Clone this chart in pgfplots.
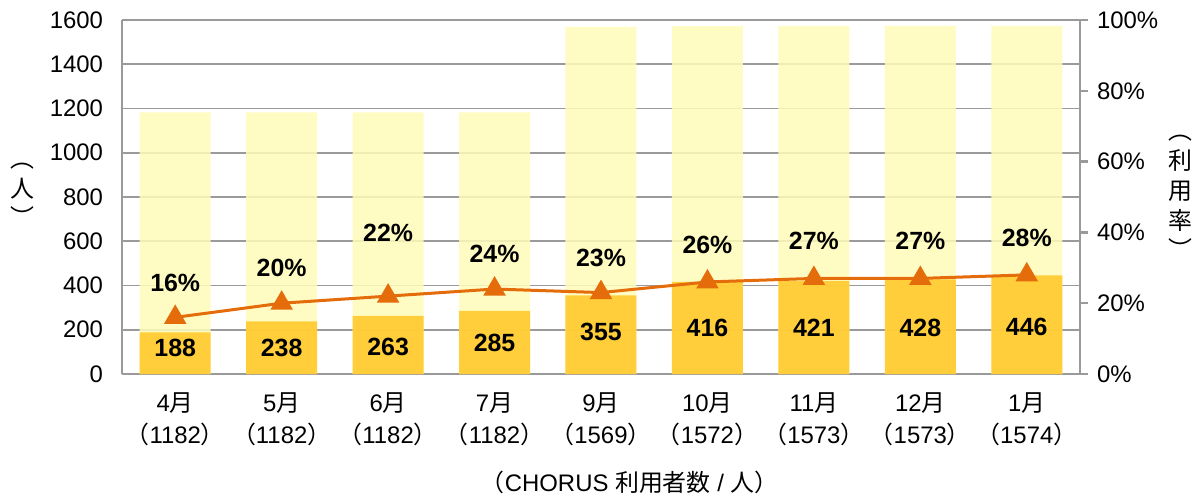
\documentclass[border=0pt]{standalone}
\usepackage{fontspec}
\setmainfont{Liberation Sans}
\newfontfamily\jp{Noto Sans CJK JP}
\usepackage{pgfplots}
\pgfplotsset{compat=1.18}

\definecolor{lightbar}{HTML}{FFFCB8}
\definecolor{darkbar}{HTML}{FFC828}
\definecolor{rate}{HTML}{E46C0A}
\definecolor{gridgray}{HTML}{9A9A9A}

\newcommand{\J}[1]{{\jp #1}}

\begin{document}
\begin{tikzpicture}
\useasboundingbox (-61bp,-63bp) rectangle (536.5bp,187bp);

\begin{axis}[
    scale only axis,
    width=479bp, height=177bp,
    xmin=-0.5, xmax=8.5,
    ymin=0, ymax=1600,
    ytick={0,200,...,1600},
    xtick={0,...,8},
    xticklabels={
        {4\J{月}\\\J{（}1182\J{）}},
        {5\J{月}\\\J{（}1182\J{）}},
        {6\J{月}\\\J{（}1182\J{）}},
        {7\J{月}\\\J{（}1182\J{）}},
        {9\J{月}\\\J{（}1569\J{）}},
        {10\J{月}\\\J{（}1572\J{）}},
        {11\J{月}\\\J{（}1573\J{）}},
        {12\J{月}\\\J{（}1573\J{）}},
        {1\J{月}\\\J{（}1574\J{）}}},
    xticklabel style={align=center, font=\fontsize{12}{16}\selectfont, yshift=-6bp},
    yticklabel style={font=\fontsize{12}{14}\selectfont, xshift=-6bp},
    /pgf/number format/assume math mode=true,
    /pgf/number format/1000 sep={},
    axis x line*=bottom,
    axis y line*=left,
    axis line style={gridgray, line width=1.2bp},
    major tick length=0pt,
    ymajorgrids,
    grid style={gridgray, line width=0.8bp},
    ybar, bar width=35.5bp, bar shift=0pt,
    clip=false,
]
\addplot[fill=lightbar, draw=none, fill opacity=0.85] coordinates {
    (0,1182) (1,1182) (2,1182) (3,1182) (4,1569)
    (5,1572) (6,1573) (7,1573) (8,1574)
};
\addplot[fill=darkbar, draw=none, fill opacity=0.88] coordinates {
    (0,188) (1,238) (2,263) (3,285) (4,355)
    (5,416) (6,421) (7,428) (8,446)
};
% value labels inside the dark bars
\addplot[draw=none, mark=none, nodes near coords, point meta=explicit symbolic,
    nodes near coords style={anchor=center, font=\fontsize{12.5}{14}\selectfont\bfseries}]
    coordinates {
    (0,117)[188] (1,117)[238] (2,122)[263] (3,140)[285] (4,190)[355]
    (5,208)[416] (6,208)[421] (7,208)[428] (8,212)[446]
};
\node[font=\fontsize{12}{14}\selectfont\jp, align=center, inner sep=0pt]
    at (axis description cs:-0.1044,0.506)
    {︵\\[1pt]人\\[1pt]︶};
\node[font=\fontsize{12}{14}\selectfont, anchor=center]
    at (axis description cs:0.53,0) [yshift=-54bp]
    {\J{（}CHORUS \J{利用者数} / \J{人）}};
\end{axis}

\begin{axis}[
    scale only axis,
    width=479bp, height=177bp,
    xmin=-0.5, xmax=8.5,
    ymin=0, ymax=100,
    ytick={0,20,...,100},
    yticklabel={\pgfmathprintnumber{\tick}\%},
    yticklabel style={font=\fontsize{12}{14}\selectfont, xshift=1bp},
    /pgf/number format/assume math mode=true,
    axis x line=none,
    axis y line*=right,
    axis line style={gridgray, line width=1.2bp},
    tick style={gridgray, line width=1.2bp},
    tick align=outside,
    major tick length=4bp,
    clip=false,
]
\addplot[rate, line width=1.5bp, mark=triangle*, mark size=5bp,
    mark options={fill=rate, draw=rate}] coordinates {
    (0,16) (1,20) (2,22) (3,24) (4,23) (5,26) (6,27) (7,27) (8,28)
};
\addplot[draw=none, mark=none, nodes near coords, point meta=explicit symbolic,
    nodes near coords style={anchor=center, font=\fontsize{12.5}{14}\selectfont\bfseries}]
    coordinates {
    (0,25.7)[16\%] (1,29.9)[20\%] (2,39.8)[22\%] (3,33.9)[24\%] (4,32.8)[23\%]
    (5,36.4)[26\%] (6,37.6)[27\%] (7,37.6)[27\%] (8,38.4)[28\%]
};
\node[font=\fontsize{12}{14}\selectfont\jp, align=center, inner sep=0pt]
    at (axis description cs:1.1044,0.5)
    {︵\\[1pt]利\\[1pt]用\\[1pt]率\\[1pt]︶};
\end{axis}
\end{tikzpicture}
\end{document}
